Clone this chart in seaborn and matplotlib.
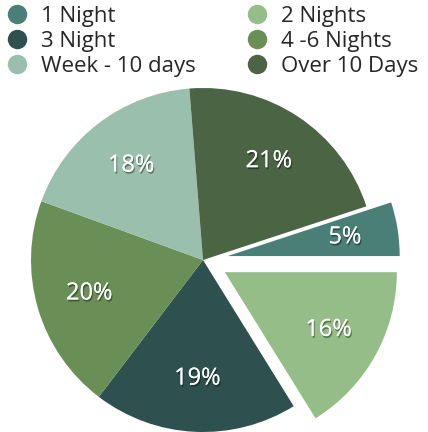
import numpy as np
import matplotlib
matplotlib.use("Agg")
import matplotlib.pyplot as plt
import matplotlib.patheffects as pe
from matplotlib.lines import Line2D
import seaborn as sns

# Data
stays = ['1 Night', '2 Nights', '3 Night', '4 -6 Nights', 'Week - 10 days', 'Over 10 Days']
shares = [5, 16, 19, 20, 18, 21]
colors = ['#4A7F77', '#95BD87', '#2E514F', '#6A8F56', '#9AC0AD', '#4A6444']
exploded = [1, 1, 0, 0, 0, 0]

sns.set_theme(style="white")
plt.rcParams['font.family'] = ['Open Sans', 'DejaVu Sans']

fig = plt.figure(figsize=(4.28, 4.32), dpi=100)
ax = fig.add_axes([0, 0, 1, 1])

# pixel-like data units so the pie sits where it does in the picture
cx, cy, r = 203, 172, 172
total = sum(shares)
start = 360 * shares[0] / total

wedges, texts, autotexts = ax.pie(
    shares, colors=colors, radius=r, center=(cx, cy),
    explode=[e * 25 for e in exploded], startangle=start, counterclock=False,
    autopct=lambda p: f"{p * total / 100:.0f}%", pctdistance=0.69,
    wedgeprops=dict(linewidth=0), frame=True)

shadow = [pe.withSimplePatchShadow(offset=(0.8, -1.4), shadow_rgbFace='black', alpha=0.4),
          pe.Normal()]
for t in autotexts:
    t.set_color('white')
    t.set_fontsize(17)
    t.set_path_effects(shadow)

ax.set_xlim(0, 428)
ax.set_ylim(0, 432)
ax.set_aspect('equal')
ax.axis('off')

# Legend: two columns, filled column-wise
order = [0, 2, 4, 1, 3, 5]
handles = [Line2D([], [], marker='o', linestyle='', markersize=14,
                  markerfacecolor=colors[i], markeredgewidth=0) for i in order]
labels = [stays[i] for i in order]
fig.legend(handles, labels, ncol=2, loc='upper left', bbox_to_anchor=(-0.018, 1.023),
           frameon=False, fontsize=16, handletextpad=0.7, columnspacing=2.35,
           labelspacing=0.19, handlelength=0.8, borderaxespad=0.3)

fig.savefig("out.png", dpi=100)
